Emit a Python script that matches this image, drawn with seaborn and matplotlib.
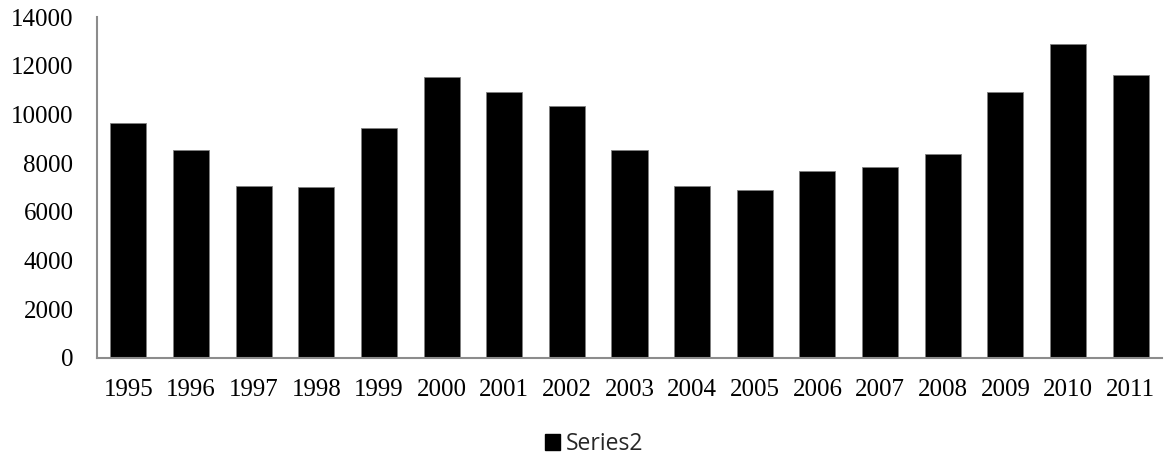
import matplotlib
matplotlib.use("Agg")
import matplotlib.pyplot as plt
import seaborn as sns
import pandas as pd
from matplotlib.patches import Patch

years = ["1995", "1996", "1997", "1998", "1999", "2000", "2001", "2002", "2003",
         "2004", "2005", "2006", "2007", "2008", "2009", "2010", "2011"]
series2 = [9630, 8560, 7050, 7040, 9460, 11545, 10915, 10355, 8560,
           7080, 6890, 7670, 7835, 8380, 10930, 12885, 11600]
y_ticks = [0, 2000, 4000, 6000, 8000, 10000, 12000, 14000]

df = pd.DataFrame({"year": years, "value": series2})

sns.set_theme(style="white")
plt.rcParams["font.family"] = ["Liberation Serif", "DejaVu Serif"]

fig = plt.figure(figsize=(11.64, 4.59), dpi=100)
ax = fig.add_axes([97 / 1164, 1 - 358 / 459, (1162 - 97) / 1164, (358 - 17) / 459])

sns.barplot(data=df, x="year", y="value", color="black", saturation=1,
            width=0.575, ax=ax, edgecolor="#808080", linewidth=0.6)

ax.set_ylim(0, 14000)
ax.set_xlim(-0.5, len(years) - 0.5)
ax.set_yticks(y_ticks)
ax.set_yticklabels([str(t) for t in y_ticks])
ax.set_xlabel("")
ax.set_ylabel("")
ax.tick_params(axis="both", length=0, labelsize=18, colors="black")
ax.tick_params(axis="y", pad=17)
ax.tick_params(axis="x", pad=15)
for s in ["top", "right"]:
    ax.spines[s].set_visible(False)
for s in ["left", "bottom"]:
    ax.spines[s].set_color("#8c8c8c")
    ax.spines[s].set_linewidth(1.5)

handle = Patch(facecolor="black", edgecolor="black")
fig.legend(handles=[handle], labels=["Series2"], loc="center",
           bbox_to_anchor=(594 / 1164, 1 - 444 / 459), frameon=False,
           handlelength=0.68, handleheight=0.68, handletextpad=0.25,
           borderpad=0, prop={"family": "Open Sans", "size": 16.5})

fig.savefig("out.png", dpi=100)
